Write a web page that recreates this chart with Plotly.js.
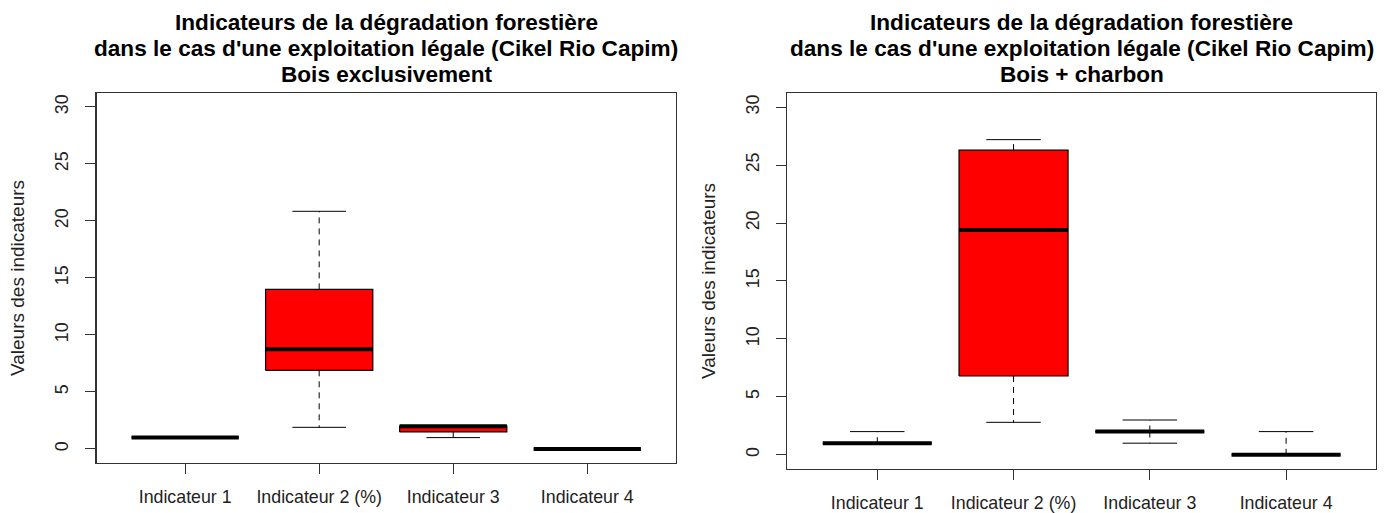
<!DOCTYPE html>
<html>
<head>
<meta charset="utf-8">
<script src="https://cdn.plot.ly/plotly-3.0.1.min.js"></script>
<style>html,body{margin:0;padding:0;background:#fff;}#chart{width:1395px;height:513px;}</style>
</head>
<body>
<div id="chart"></div>
<script>
// ---- data ----
const categories = ['Indicateur 1', 'Indicateur 2 (%)', 'Indicateur 3', 'Indicateur 4'];
const yTicks = [0, 5, 10, 15, 20, 25, 30];

// Panel 1 : Bois exclusivement
const boisLow    = [1, 1.9, 1,   0];
const boisQ1     = [1, 6.9, 1.5, 0];
const boisMedian = [1, 8.75, 2,  0];
const boisQ3     = [1, 14.0, 2,  0];
const boisHigh   = [1, 20.85, 2, 0];

// Panel 2 : Bois + charbon
const charbonLow    = [1, 2.8, 1, 0];
const charbonQ1     = [1, 6.8, 2, 0];
const charbonMedian = [1, 19.4, 2, 0];
const charbonQ3     = [1, 26.3, 2, 0];
const charbonHigh   = [2, 27.2, 3, 2];

const titleLinesLeft  = ["Indicateurs de la dégradation forestière", "dans le cas d'une exploitation légale (Cikel Rio Capim)", "Bois exclusivement"];
const titleLinesRight = ["Indicateurs de la dégradation forestière", "dans le cas d'une exploitation légale (Cikel Rio Capim)", "Bois + charbon"];
const yTitle = 'Valeurs des indicateurs';

// ---- drawing helpers ----
const HALF = 0.4, STAPLE = 0.2;
function boxTraces(lo, q1, med, q3, hi, xa, ya) {
  const bx = [], by = [], wx = [], wy = [], sx = [], sy = [], mx = [], my = [];
  for (let i = 0; i < categories.length; i++) {
    const c = i + 1;
    bx.push(c - HALF, c + HALF, c + HALF, c - HALF, c - HALF, null);
    by.push(q1[i], q1[i], q3[i], q3[i], q1[i], null);
    if (hi[i] > q3[i]) { wx.push(c, c, null); wy.push(q3[i], hi[i], null); }
    if (lo[i] < q1[i]) { wx.push(c, c, null); wy.push(q1[i], lo[i], null); }
    sx.push(c - STAPLE, c + STAPLE, null, c - STAPLE, c + STAPLE, null);
    sy.push(hi[i], hi[i], null, lo[i], lo[i], null);
    mx.push(c - HALF, c + HALF, null);
    my.push(med[i], med[i], null);
  }
  const base = {type: 'scatter', mode: 'lines', xaxis: xa, yaxis: ya, hoverinfo: 'skip', showlegend: false};
  return [
    Object.assign({}, base, {x: wx, y: wy, line: {color: '#000', width: 1, dash: '6px,5px'}}),
    Object.assign({}, base, {x: sx, y: sy, line: {color: '#000', width: 1}}),
    Object.assign({}, base, {x: bx, y: by, fill: 'toself', fillcolor: '#ff0000', line: {color: '#000', width: 1.2}}),
    Object.assign({}, base, {x: mx, y: my, line: {color: '#000', width: 4}})
  ];
}

const data = [].concat(
  boxTraces(boisLow, boisQ1, boisMedian, boisQ3, boisHigh, 'x', 'y'),
  boxTraces(charbonLow, charbonQ1, charbonMedian, charbonQ3, charbonHigh, 'x2', 'y2')
);

const FONT = 'Liberation Sans, Arial, sans-serif';
function xAxis(domain, anchor) {
  return {
    domain: domain, anchor: anchor, range: [0.34, 4.66],
    tickmode: 'array', tickvals: categories.map((_, i) => i + 1), ticktext: categories,
    ticks: 'outside', ticklen: 10, tickcolor: '#333', tickwidth: 1,
    ticklabelstandoff: 8,
    showline: true, mirror: true, linecolor: '#333', linewidth: 1.2,
    showgrid: false, zeroline: false, fixedrange: true,
    tickfont: {family: FONT, size: 17.8, color: '#222'}
  };
}
function yAxis(domain, anchor) {
  return {
    domain: domain, anchor: anchor, range: [-1.2, 31.2],
    tickmode: 'array', tickvals: yTicks, ticktext: yTicks.map(String),
    tickangle: -90,
    ticks: 'outside', ticklen: 10, tickcolor: '#333', tickwidth: 1,
    ticklabelstandoff: 10,
    showline: true, mirror: true, linecolor: '#333', linewidth: 1.2,
    showgrid: false, zeroline: false, fixedrange: true,
    tickfont: {family: FONT, size: 17.8, color: '#222'},
    title: {text: yTitle, font: {family: FONT, size: 19, color: '#222'}, standoff: 22}
  };
}

const titleCentersY = [22, 48.5, 75];
const annotations = [];
[[titleLinesLeft, 0.2768], [titleLinesRight, 0.7754]].forEach(([lines, xc]) => {
  lines.forEach((t, k) => annotations.push({
    text: t, xref: 'paper', yref: 'paper', x: xc, y: 1 - titleCentersY[k] / 513,
    xanchor: 'center', yanchor: 'middle', showarrow: false,
    font: {family: FONT, size: 22.6, color: '#000', weight: 'bold'}
  }));
});

const layout = {
  width: 1395, height: 513,
  margin: {l: 0, r: 0, t: 0, b: 0},
  paper_bgcolor: '#fff', plot_bgcolor: '#fff',
  showlegend: false,
  xaxis: xAxis([0.0693, 0.4844], 'y'),
  yaxis: yAxis([0.0981, 0.8181], 'x'),
  xaxis2: xAxis([0.5644, 0.9864], 'y2'),
  yaxis2: yAxis([0.0864, 0.8181], 'x2'),
  annotations: annotations
};

Plotly.newPlot('chart', data, layout, {displayModeBar: false, staticPlot: true});
</script>
</body>
</html>
